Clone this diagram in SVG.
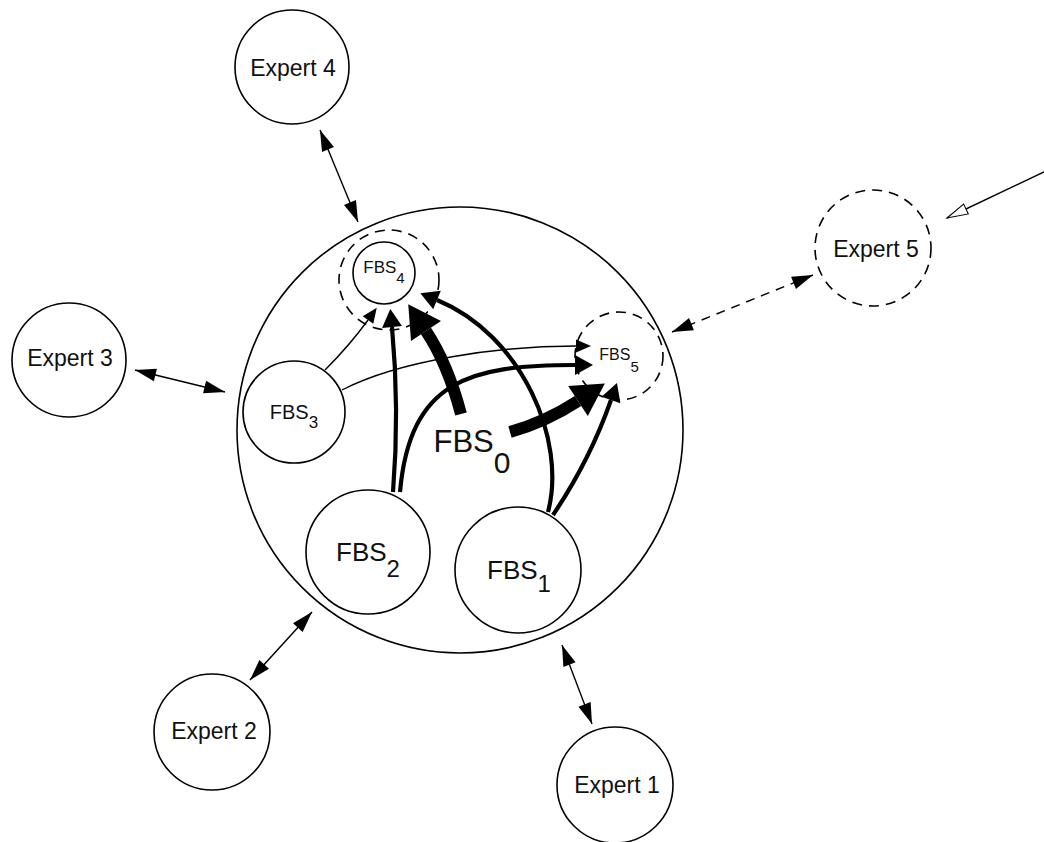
<svg xmlns="http://www.w3.org/2000/svg" width="1044" height="842" viewBox="0 0 1044 842">
<style>
.c{fill:#fff;stroke:#000;stroke-width:1.6}
.d{fill:none;stroke:#000;stroke-width:1.6;stroke-dasharray:10 7}
.t{font-family:"Liberation Sans",Arial,sans-serif;fill:#111;text-anchor:middle}
.l{fill:none;stroke:#000}
.thin{stroke-width:1.4}
.thick{stroke-width:4.2}
.huge{stroke-width:12}
</style>
<defs>
<marker id="mHuge" markerUnits="userSpaceOnUse" orient="auto" refX="0" refY="0" markerWidth="40" markerHeight="40" overflow="visible"><path d="M0,-18 L32,0 L0,18 z" fill="#000"/></marker>
<marker id="mThick" markerUnits="userSpaceOnUse" orient="auto" refX="0" refY="0" markerWidth="30" markerHeight="30" overflow="visible"><path d="M0,-10 L18,0 L0,10 z" fill="#000"/></marker>
<marker id="mThin" markerUnits="userSpaceOnUse" orient="auto" refX="0" refY="0" markerWidth="20" markerHeight="20" overflow="visible"><path d="M0,-6.5 L15,0 L0,6.5 z" fill="#000"/></marker>
<marker id="mTip" markerUnits="userSpaceOnUse" orient="auto-start-reverse" refX="0" refY="0" markerWidth="24" markerHeight="24" overflow="visible"><path d="M0,0 L-21,-6.5 L-21,6.5 z" fill="#000"/></marker>
<marker id="mOpen" markerUnits="userSpaceOnUse" orient="auto" refX="0" refY="0" markerWidth="24" markerHeight="24" overflow="visible"><path d="M0,0 L-21,-5.5 L-21,5.5 z" fill="#fff" stroke="#000" stroke-width="1"/></marker>
</defs>

<g id="container"><circle class="c" cx="460" cy="430" r="223"/></g>

<g id="expert4"><circle class="c" cx="292" cy="67" r="57"/><text class="t" x="293" y="76" font-size="23">Expert 4</text></g>
<g id="expert3"><circle class="c" cx="69" cy="360" r="57"/><text class="t" x="70" y="366" font-size="23">Expert 3</text></g>
<g id="expert2"><circle class="c" cx="212" cy="732" r="58"/><text class="t" x="214" y="739" font-size="23">Expert 2</text></g>
<g id="expert1"><circle class="c" cx="615" cy="785" r="58"/><text class="t" x="617" y="793" font-size="23">Expert 1</text></g>
<g id="expert5"><circle class="d" cx="873" cy="248" r="58"/><text class="t" x="876" y="257" font-size="23">Expert 5</text></g>

<g id="fbs4"><circle class="d" cx="389" cy="280" r="50"/><circle class="c" cx="384" cy="273" r="31"/><text class="t" x="384" y="273" font-size="17">FBS<tspan font-size="15" dy="10">4</tspan></text></g>
<g id="fbs5"><circle class="d" cx="619" cy="356" r="44"/><text class="t" x="619" y="360" font-size="16">FBS<tspan font-size="15" dy="12">5</tspan></text></g>
<g id="fbs3"><circle class="c" cx="294" cy="412" r="51"/><text class="t" x="294" y="419" font-size="20">FBS<tspan font-size="17" dy="9">3</tspan></text></g>
<g id="fbs2"><circle class="c" cx="368" cy="552" r="62"/><text class="t" x="368" y="561" font-size="26">FBS<tspan font-size="24" dy="16">2</tspan></text></g>
<g id="fbs1"><circle class="c" cx="518" cy="570" r="63"/><text class="t" x="519" y="579" font-size="26">FBS<tspan font-size="24" dy="13">1</tspan></text></g>
<g id="fbs0"><text class="t" x="472" y="452" font-size="31">FBS<tspan font-size="30" dy="21">0</tspan></text></g>

<g id="connectors">
<line class="l thin" x1="320" y1="130" x2="358" y2="222" marker-start="url(#mTip)" marker-end="url(#mTip)"/>
<line class="l thin" x1="135" y1="370" x2="225" y2="392" marker-start="url(#mTip)" marker-end="url(#mTip)"/>
<line class="l thin" x1="250" y1="680" x2="312" y2="612" marker-start="url(#mTip)" marker-end="url(#mTip)"/>
<line class="l thin" x1="562" y1="645" x2="592" y2="724" marker-start="url(#mTip)" marker-end="url(#mTip)"/>
<line class="l thin" x1="672" y1="332" x2="813" y2="275" stroke-dasharray="9 7" marker-start="url(#mTip)" marker-end="url(#mTip)"/>
<line class="l thin" x1="1044" y1="172" x2="947" y2="218" marker-end="url(#mOpen)"/>

<path class="l thin" d="M325,370 Q350,345 368,320" marker-end="url(#mThin)"/>
<path class="l thin" d="M342,390 C400,360 500,346 576,346" marker-end="url(#mThin)"/>
<path class="l thick" d="M393,492 C398,430 396,370 392,327" marker-end="url(#mThick)"/>
<path class="l thick" d="M400,492 C410,380 470,365 575,365" marker-end="url(#mThick)"/>
<path class="l thick" d="M548,512 C567,440 522,335 437,300" marker-end="url(#mThick)"/>
<path class="l thick" d="M553,515 Q590,460 611,400" marker-end="url(#mThick)"/>
<path class="l huge" d="M461,414 C452,380 440,352 426,331" marker-end="url(#mHuge)"/>
<path class="l huge" d="M510,432 C535,425 558,414 578,401" marker-end="url(#mHuge)"/>
</g>
</svg>
